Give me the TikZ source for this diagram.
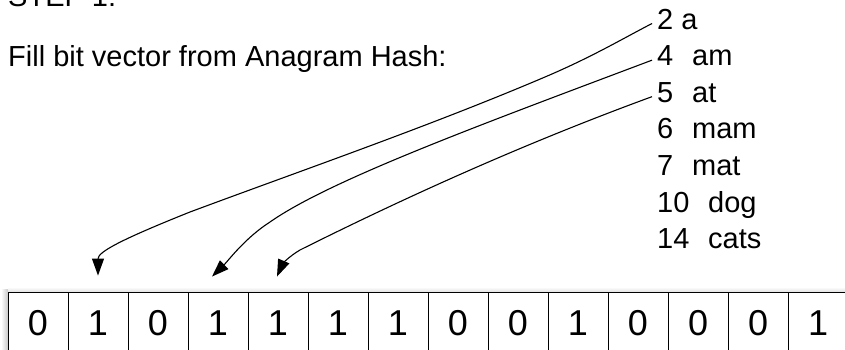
\documentclass[tikz,border=0pt]{standalone}
\usepackage{fontspec}
\setmainfont{Liberation Sans}
\usetikzlibrary{arrows.meta}
\begin{document}
\begin{tikzpicture}[x=1pt,y=-1pt,
  txt/.style={inner sep=0pt,anchor=base west,font=\fontsize{29}{35}\selectfont},
  cell/.style={draw=black,line width=0.9pt,fill=white,minimum width=60pt,minimum height=62pt,inner sep=0pt,font=\fontsize{36}{40}\selectfont},
  conn/.style={draw=black,line width=1.1pt,-{Triangle[length=17pt,width=12pt]}}]
\useasboundingbox (0,0) rectangle (845,350);
\clip (0,0) rectangle (845,350);
% title texts
\node[txt] (step) at (8,7) {STEP 1:};
\node[txt] (fill) at (8,67) {Fill bit vector from Anagram Hash:};
% hash list
\node[txt] (l2) at (657,29.5) {2 a};
\node[txt] (l4) at (657,66) {\makebox[35pt][l]{4}am};
\node[txt] (l5) at (657,102.5) {\makebox[35pt][l]{5}at};
\node[txt] (l6) at (657,139) {\makebox[35pt][l]{6}mam};
\node[txt] (l7) at (657,175.5) {\makebox[35pt][l]{7}mat};
\node[txt] (l10) at (657,212) {\makebox[51pt][l]{10}dog};
\node[txt] (l14) at (657,248.5) {\makebox[51pt][l]{14}cats};
% shadow
\shade[left color=white,right color=black!22] (1,289) rectangle (8,350);
\shade[top color=white,bottom color=black!12] (8,287) rectangle (845,292);
% bit vector
\foreach \b [count=\i] in {0,1,0,1,1,1,1,0,0,1,0,0,0,1}{
  \node[cell] (c\i) at ({8+60*(\i-1)+30},323) {\b};
}
% connectors
\draw[conn] ([xshift=-5pt,yshift=-4pt]l2.west) .. controls (622,39) and (592,57) .. (545,77)
   .. controls (430,126) and (300,171) .. (190,212)
   .. controls (120,240) and (98,252) .. ([yshift=16pt]c2.north);
\draw[conn] ([xshift=-5pt,yshift=-4pt]l4.west) .. controls (480,125) and (330,180) .. (270,222)
   .. controls (245,238) and (228,261) .. ([xshift=-6pt,yshift=15pt]c4.north);
\draw[conn] ([xshift=-5pt,yshift=-4pt]l5.west) .. controls (520,145) and (400,200) .. (300,250)
   .. controls (288,257) and (282,265) .. ([xshift=-1pt,yshift=15pt]c5.north);
\end{tikzpicture}
\end{document}
